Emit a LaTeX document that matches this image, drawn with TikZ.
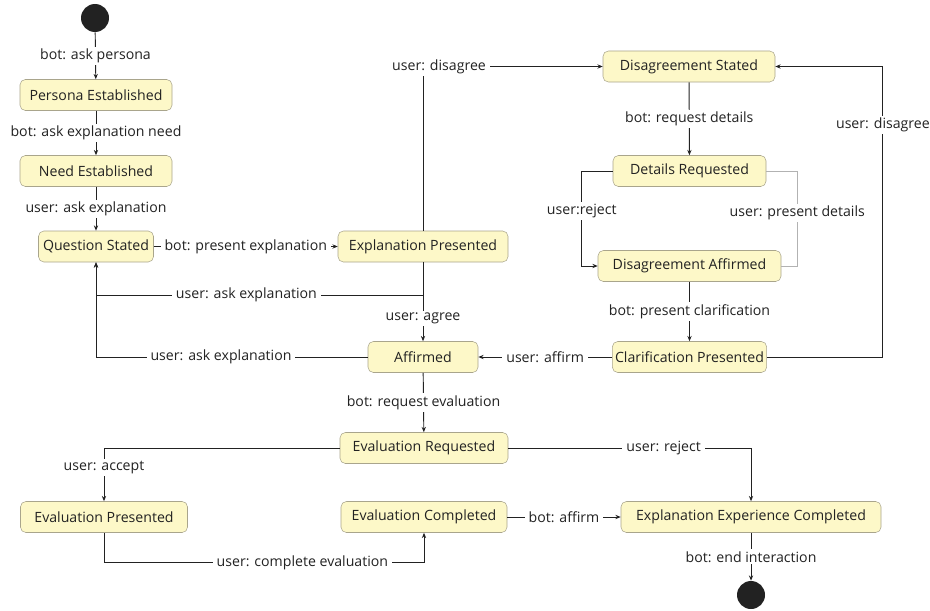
\documentclass[tikz,border=0pt]{standalone}
\usepackage{fontspec}
\setmainfont{Open Sans}
\usetikzlibrary{arrows.meta}
\definecolor{statefill}{HTML}{FDF8C8}
\definecolor{stateline}{HTML}{A9A58C}
\definecolor{ink}{HTML}{222222}
\begin{document}
\begin{tikzpicture}[
	x=0.75pt, y=-0.75pt,
	font=\fontsize{10.6}{12}\selectfont, text=ink,
	state/.style={rectangle, rounded corners=4pt, draw=stateline, fill=statefill, minimum height=23.25pt, inner sep=2pt},
	pseudo/.style={circle, fill=ink, minimum size=21pt, inner sep=0pt},
	lbl/.style={fill=white, inner xsep=3pt, inner ysep=1.5pt},
	trans/.style={draw=ink, line width=0.7pt, -{Stealth[length=4pt, width=3.2pt]}},
	faint/.style={draw=black!30, line width=0.7pt}
	]
	\useasboundingbox (0,0) rectangle (930,610);
	\node [pseudo] (start) at (95,18) {};
	\node [state, minimum width=114pt] (persona) at (96,95) {Persona Established};
	\node [state, minimum width=114pt] (need) at (96,171) {Need Established};
	\node [state, minimum width=86.25pt] (question) at (96,246.5) {Question Stated};
	\node [state, minimum width=127.5pt] (explpres) at (423,246.5) {Explanation Presented};
	\node [state, minimum width=129pt] (disstated) at (689,66.5) {Disagreement Stated};
	\node [state, minimum width=114.75pt] (details) at (689.5,171) {Details Requested};
	\node [state, minimum width=137.25pt] (disaff) at (689.5,266) {Disagreement Affirmed};
	\node [state, minimum width=114.75pt] (clarif) at (689.5,357) {Clarification Presented};
	\node [state, minimum width=82.5pt] (affirmed) at (423,357) {Affirmed};
	\node [state, minimum width=126pt] (evalreq) at (424,448) {Evaluation Requested};
	\node [state, minimum width=125.25pt] (evalpres) at (104,517) {Evaluation Presented};
	\node [state, minimum width=124.5pt] (evalcomp) at (424,517) {Evaluation Completed};
	\node [state, minimum width=195pt] (expcomp) at (751,517) {Explanation Experience Completed};
	\node [pseudo] (finish) at (751,595) {};

	\draw [trans] (start) -- node [lbl] {bot: ask persona} (persona);
	\draw [trans] (persona) -- node [lbl] {bot: ask explanation need} (need);
	\draw [trans] (need) -- node [lbl] {user: ask explanation} (question);
	\draw [trans] (question) -- node [lbl] {bot: present explanation} (explpres);
	\draw [trans] (explpres.south) -- ++(0,33) -| node [lbl, pos=0.27] {user: ask explanation} (question.south);
	\draw [trans] (explpres.south) -- node [lbl, pos=0.71] {user: agree} (affirmed.north);
	\draw [trans] (affirmed.west) -| node [lbl, pos=0.27] {user: ask explanation} (question.south);
	\draw [trans] (explpres.north) |- node [lbl, pos=0.5, xshift=12pt] {user: disagree} (disstated.west);
	\draw [trans] (disstated) -- node [lbl] {bot: request details} (details);
	\draw [trans] (details.west) -- ++(-31,0) |- node [lbl, pos=0.21] {user:reject} (disaff.west);
	\draw [faint] (details.east) -- ++(31,0) |- node [lbl, pos=0.22] {user: present details} (disaff.east);
	\draw [trans] (disaff) -- node [lbl] {bot: present clarification} (clarif);
	\draw [trans] (clarif) -- node [lbl] {user: affirm} (affirmed);
	\draw [trans] (clarif.east) -- ++(116,0) |- node [lbl, pos=0.4] {user: disagree} (disstated.east);
	\draw [trans] (affirmed) -- node [lbl] {bot: request evaluation} (evalreq);
	\draw [trans] (evalreq.west) -| node [lbl, pos=0.68] {user: accept} (evalpres.north);
	\draw [trans] (evalreq.east) -| node [lbl, pos=0.32] {user: reject} (expcomp.north);
	\draw [trans] (evalpres.south) -- ++(0,30) -| node [lbl, pos=0.31] {user: complete evaluation} (evalcomp.south);
	\draw [trans] (evalcomp) -- node [lbl] {bot: affirm} (expcomp);
	\draw [trans] (expcomp) -- node [lbl] {bot: end interaction} (finish);
\end{tikzpicture}
\end{document}
